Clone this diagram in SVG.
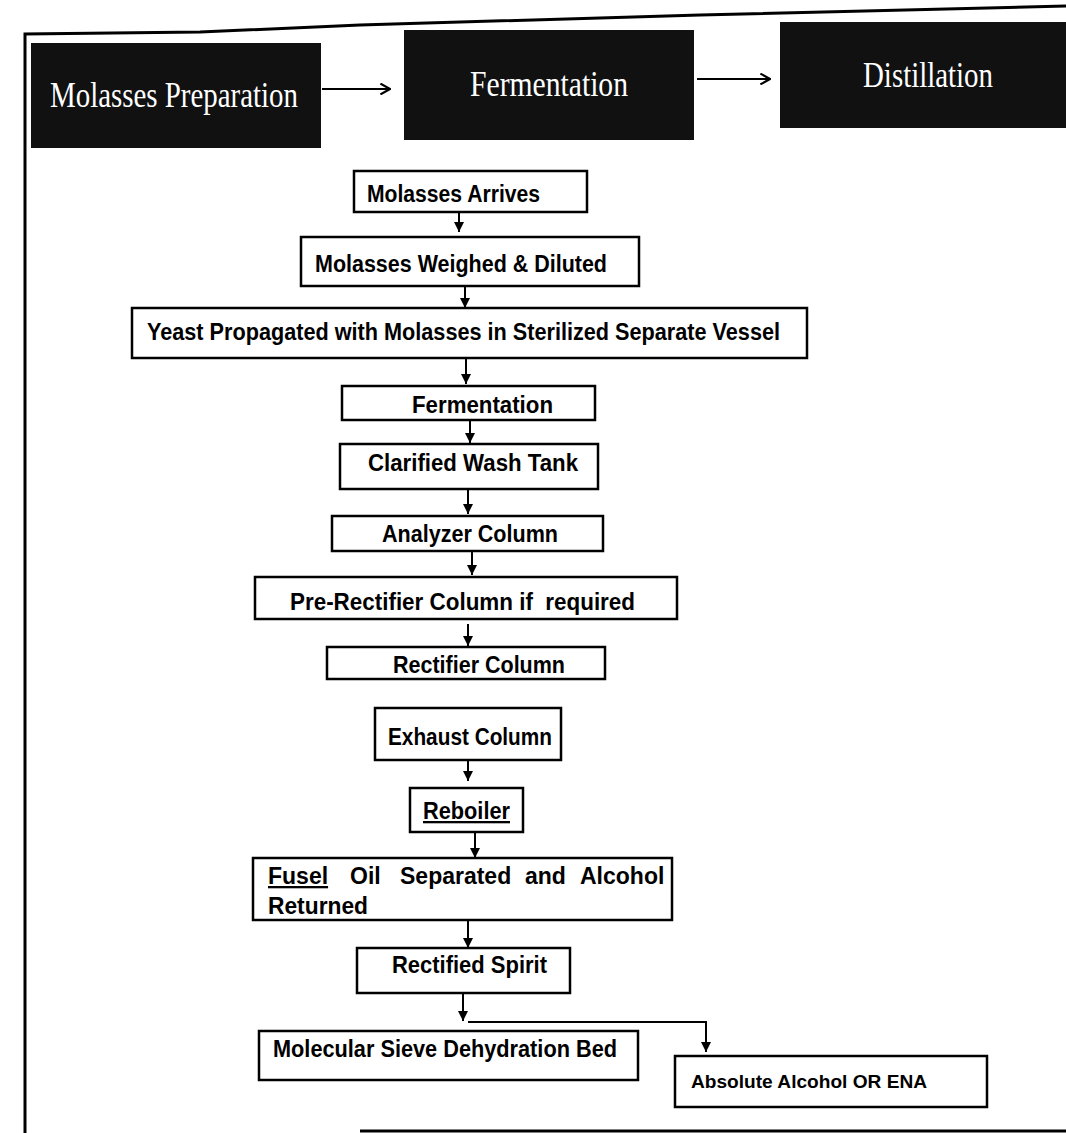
<svg xmlns="http://www.w3.org/2000/svg" width="1066" height="1133" viewBox="0 0 1066 1133">
<style>
.hdr{fill:#111;stroke:none}
.htxt{font-family:"Liberation Serif","Times New Roman",serif;font-size:36px;fill:#fff}
.box{fill:#fff;stroke:#000;stroke-width:2.5}
.t{font-family:"Liberation Sans",Arial,sans-serif;font-weight:bold;font-size:23px;fill:#000}
.ts{font-family:"Liberation Sans",Arial,sans-serif;font-weight:bold;font-size:18px;fill:#000}
.ln{fill:none;stroke:#000;stroke-width:2}
.hl{fill:none;stroke:#000;stroke-width:2.2}
.frame{fill:none;stroke:#000;stroke-width:3}
</style>
<defs>
<marker id="ah" viewBox="0 0 10 10" refX="10" refY="5" markerWidth="11" markerHeight="10" markerUnits="userSpaceOnUse" orient="auto">
<path d="M0,0 L10,5 L0,10 Z" fill="#000"/>
</marker>
<marker id="oa" viewBox="0 0 10 10" refX="9" refY="5" markerWidth="12" markerHeight="12" markerUnits="userSpaceOnUse" orient="auto">
<path d="M1,0.5 L9,5 L1,9.5" fill="none" stroke="#000" stroke-width="1.8"/>
</marker>
</defs>
<rect width="1066" height="1133" fill="#fff"/>
<g id="frame">
<polyline class="frame" points="25,1133 25,34 200,32 360,25 700,15 1066,6"/>
<line class="frame" x1="360" y1="1131" x2="1066" y2="1131"/>
</g>
<g id="hdr-molasses-prep">
<rect class="hdr" x="31" y="43" width="290" height="105"/>
<text class="htxt" x="50" y="107" textLength="248" lengthAdjust="spacingAndGlyphs">Molasses Preparation</text>
</g>
<g id="hdr-fermentation">
<rect class="hdr" x="404" y="30" width="290" height="110"/>
<text class="htxt" x="470" y="96" textLength="158" lengthAdjust="spacingAndGlyphs">Fermentation</text>
</g>
<g id="hdr-distillation">
<rect class="hdr" x="780" y="22" width="286" height="106"/>
<text class="htxt" x="863" y="87" textLength="130" lengthAdjust="spacingAndGlyphs">Distillation</text>
</g>
<g id="n1"><rect class="box" x="354" y="171" width="233" height="41"/><text class="t" x="367" y="202" textLength="173" lengthAdjust="spacingAndGlyphs">Molasses Arrives</text></g>
<g id="n2"><rect class="box" x="301" y="237" width="338" height="49"/><text class="t" x="315" y="272" textLength="292" lengthAdjust="spacingAndGlyphs">Molasses Weighed &amp; Diluted</text></g>
<g id="n3"><rect class="box" x="132" y="308" width="675" height="50"/><text class="t" x="147" y="340" textLength="633" lengthAdjust="spacingAndGlyphs">Yeast Propagated with Molasses in Sterilized Separate Vessel</text></g>
<g id="n4"><rect class="box" x="342" y="386" width="253" height="34"/><text class="t" x="412" y="413" textLength="141" lengthAdjust="spacingAndGlyphs">Fermentation</text></g>
<g id="n5"><rect class="box" x="340" y="444" width="258" height="45"/><text class="t" x="368" y="471" textLength="210" lengthAdjust="spacingAndGlyphs">Clarified Wash Tank</text></g>
<g id="n6"><rect class="box" x="332" y="516" width="271" height="35"/><text class="t" x="382" y="542" textLength="176" lengthAdjust="spacingAndGlyphs">Analyzer Column</text></g>
<g id="n7"><rect class="box" x="255" y="577" width="422" height="42"/><text class="t" x="290" y="610" textLength="345" lengthAdjust="spacingAndGlyphs" xml:space="preserve">Pre-Rectifier Column if  required</text></g>
<g id="n8"><rect class="box" x="327" y="647" width="278" height="32"/><text class="t" x="393" y="673" textLength="172" lengthAdjust="spacingAndGlyphs">Rectifier Column</text></g>
<g id="n9"><rect class="box" x="375" y="708" width="186" height="52"/><text class="t" x="388" y="745" textLength="164" lengthAdjust="spacingAndGlyphs">Exhaust Column</text></g>
<g id="n10"><rect class="box" x="410" y="788" width="113" height="44"/><text class="t" x="423" y="819" textLength="87" lengthAdjust="spacingAndGlyphs" text-decoration="underline">Reboiler</text></g>
<g id="n11"><rect class="box" x="253" y="858" width="419" height="62"/>
<text class="t" y="884"><tspan x="268" text-decoration="underline">Fusel</tspan><tspan x="350">Oil</tspan><tspan x="400">Separated</tspan><tspan x="525">and</tspan><tspan x="580">Alcohol</tspan></text>
<text class="t" x="268" y="914" textLength="100" lengthAdjust="spacingAndGlyphs">Returned</text></g>
<g id="n12"><rect class="box" x="357" y="948" width="213" height="45"/><text class="t" x="392" y="973" textLength="155" lengthAdjust="spacingAndGlyphs">Rectified Spirit</text></g>
<g id="n13"><rect class="box" x="259" y="1031" width="379" height="49"/><text class="t" x="273" y="1057" textLength="344" lengthAdjust="spacingAndGlyphs">Molecular Sieve Dehydration Bed</text></g>
<g id="n14"><rect class="box" x="675" y="1056" width="312" height="51"/><text class="ts" x="691" y="1088" textLength="236" lengthAdjust="spacingAndGlyphs">Absolute Alcohol OR ENA</text></g>
<g id="connectors">
<line class="hl" x1="322" y1="89" x2="390" y2="89" marker-end="url(#oa)"/>
<line class="hl" x1="697" y1="79" x2="770" y2="79" marker-end="url(#oa)"/>
<line class="ln" x1="459" y1="212" x2="459" y2="232" marker-end="url(#ah)"/>
<line class="ln" x1="465" y1="286" x2="465" y2="308" marker-end="url(#ah)"/>
<line class="ln" x1="466" y1="358" x2="466" y2="384" marker-end="url(#ah)"/>
<line class="ln" x1="470" y1="420" x2="470" y2="443" marker-end="url(#ah)"/>
<line class="ln" x1="468" y1="489" x2="468" y2="514" marker-end="url(#ah)"/>
<line class="ln" x1="472" y1="551" x2="472" y2="575" marker-end="url(#ah)"/>
<line class="ln" x1="468" y1="624" x2="468" y2="646" marker-end="url(#ah)"/>
<line class="ln" x1="468" y1="760" x2="468" y2="781" marker-end="url(#ah)"/>
<line class="ln" x1="475" y1="832" x2="475" y2="858" marker-end="url(#ah)"/>
<line class="ln" x1="468" y1="920" x2="468" y2="948" marker-end="url(#ah)"/>
<line class="ln" x1="463" y1="993" x2="463" y2="1021" marker-end="url(#ah)"/>
<polyline class="ln" points="468,1022 706,1022 706,1052" marker-end="url(#ah)"/>
</g>
</svg>
